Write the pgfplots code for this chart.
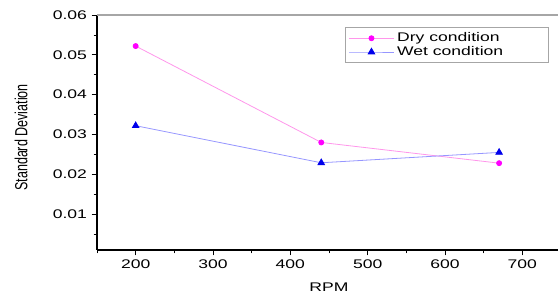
\documentclass[border=0pt]{standalone}
\usepackage{pgfplots}
\pgfplotsset{compat=1.18}
\usepackage{fontspec}
\setmainfont{Liberation Sans}
\definecolor{drymark}{RGB}{255,0,255}
\definecolor{dryline}{RGB}{255,150,235}
\definecolor{wetmark}{RGB}{0,0,235}
\definecolor{wetline}{RGB}{150,150,255}
\newcommand{\wide}[1]{\scalebox{1.4}[1]{#1}}
\begin{document}
\begin{tikzpicture}
\begin{axis}[name=ax, scale only axis, width=348pt, height=176.25pt,
  xmin=150, xmax=750, ymin=0.001, ymax=0.06,
  axis x line*=bottom, axis y line*=left,
  axis line style={black, line width=1pt},
  xtick={200,300,400,500,600,700},
  ytick={0.01,0.02,0.03,0.04,0.05,0.06},
  minor xtick={150,250,350,450,550,650,750},
  minor ytick={0.005,0.015,0.025,0.035,0.045,0.055},
  scaled y ticks=false, scaled x ticks=false,
  tick align=outside, major tick length=4pt, minor tick length=2.5pt,
  tick style={black, line width=0.6pt},
  /pgf/number format/assume math mode=true,
  font=\fontsize{9.4pt}{11pt}\selectfont,
  xticklabel={\wide{\pgfmathprintnumber{\tick}}},
  yticklabel={\wide{\pgfmathprintnumber[fixed,fixed zerofill,precision=2]{\tick}}},
  xlabel={\wide{RPM}},
  xlabel style={at={(axis description cs:0.5,-0.1574)}, anchor=center},
  ylabel={\scalebox{1}[1.4]{Standard Deviation}},
  ylabel style={at={(axis description cs:-0.1638,0.479)}, anchor=center},
  legend style={at={(0.974,0.949)}, anchor=north east, draw=gray!70, line width=0.6pt,
    font=\fontsize{9.4pt}{11pt}\selectfont, row sep=-2pt, inner sep=2pt},
  legend cell align=left,
  legend image code/.code={\draw[mark repeat=2,mark phase=2] plot coordinates {(0pt,0pt) (17pt,0pt) (34pt,0pt)};},
]
\draw[gray!70, line width=0.8pt] (rel axis cs:0,1) -- (rel axis cs:1,1);
\addplot[color=dryline, line width=0.6pt, mark=*, mark size=1.9pt, mark options={draw=drymark, fill=drymark}]
  coordinates {(200,0.0522) (440,0.0280) (670,0.0228)};
\addlegendentry{\wide{Dry condition}}
\addplot[color=wetline, line width=0.6pt, mark=triangle*, mark size=2.8pt, mark options={draw=wetmark, fill=wetmark}]
  coordinates {(200,0.0322) (440,0.0229) (670,0.0255)};
\addlegendentry{\wide{Wet condition}\hspace*{30pt}}
\end{axis}
\pgfresetboundingbox
\path[use as bounding box] ([xshift=-72.75pt,yshift=-33.75pt]ax.south west) rectangle ([xshift=345.75pt,yshift=11.25pt]ax.north west);
\end{tikzpicture}
\end{document}
